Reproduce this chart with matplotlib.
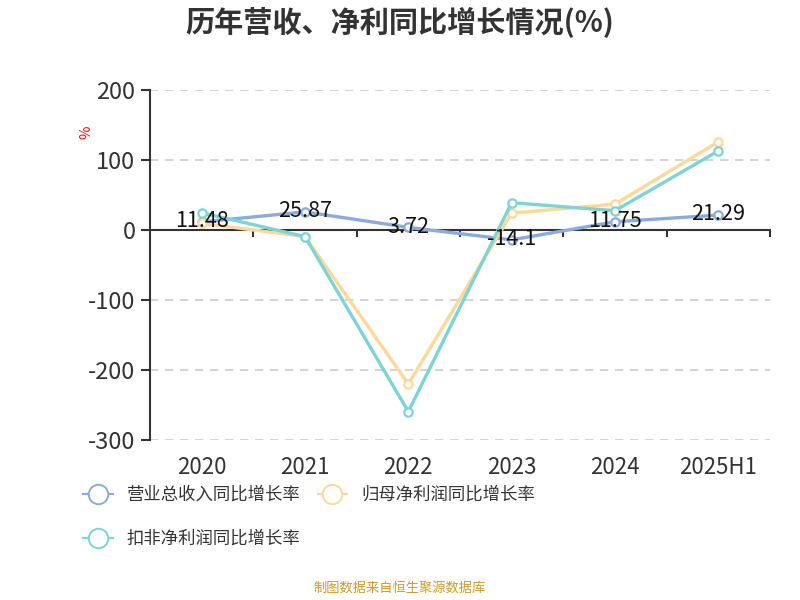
import matplotlib
matplotlib.use('Agg')
import matplotlib.pyplot as plt
from matplotlib.lines import Line2D

plt.rcParams['font.family'] = ['Noto Sans CJK SC', 'DejaVu Sans']
plt.rcParams['axes.unicode_minus'] = False

years = ['2020', '2021', '2022', '2023', '2024', '2025H1']
revenue = [11.48, 25.87, 3.72, -14.1, 11.75, 21.29]
net_profit = [9.5, -9.5, -220, 24, 37, 126]
deducted_profit = [24.7, -9.5, -259.5, 39, 27.6, 113]

names = ['营业总收入同比增长率', '归母净利润同比增长率', '扣非净利润同比增长率']
colors = ['#8caadc', '#fdd89b', '#7ed3d3']

fig = plt.figure(figsize=(8, 6), dpi=100)
ax = fig.add_axes([0.1875, 0.2667, 0.775, 0.5833])

x = list(range(len(years)))
handles = []
for vals, c, name in zip([revenue, net_profit, deducted_profit], colors, names):
    ax.plot(x, vals, color=c, lw=2.4, marker='o', ms=6, mfc='white',
            mec=c, mew=1.6, zorder=3)
    handles.append(Line2D([], [], color=c, lw=1.6, marker='o', ms=14,
                          mfc='white', mec=c, mew=1.4))

# labels on revenue points
for xi, v in zip(x, revenue):
    ax.annotate(f'{v:g}', (xi, v), xytext=(0, 0.5), textcoords='offset points',
                ha='center', va='center', fontsize=15.5, color='#111', zorder=5)

ax.set_xlim(-0.5, 5.5)
ax.set_ylim(-300, 200)
ax.set_yticks([-300, -200, -100, 0, 100, 200])
ax.tick_params(axis='y', length=6.5, width=1.5, color='#333', labelsize=17,
               labelcolor='#333', pad=4)
for yv in [-300, -200, -100, 100, 200]:
    ax.axhline(yv, color='#cccccc', lw=1.2, ls=(0, (5, 4)), zorder=1)

ax.spines['top'].set_visible(False)
ax.spines['right'].set_visible(False)
ax.spines['left'].set_color('#333')
ax.spines['left'].set_linewidth(1.5)
ax.spines['bottom'].set_position(('data', 0))
ax.spines['bottom'].set_color('#333')
ax.spines['bottom'].set_linewidth(1.5)

ax.set_xticks([i + 0.5 for i in x])
ax.set_xticklabels([])
ax.tick_params(axis='x', length=5, width=1.5, color='#333')
for xi, lab in zip(x, years):
    ax.text(xi, -0.08, lab, transform=ax.get_xaxis_transform(), ha='center',
            va='center', fontsize=16, color='#333')

fig.text(0.5, 0.962, '历年营收、净利同比增长情况(%)', ha='center', va='center',
         fontsize=21, fontweight='bold', color='#333')
fig.text(0.108, 0.78, '%', rotation=90, ha='center', va='center',
         fontsize=10.5, color='red')

fig.legend([handles[0], handles[2], handles[1]],
           [names[0], names[2], names[1]], ncol=2, loc='upper left',
           bbox_to_anchor=(0.104, 0.19), frameon=False, fontsize=12.5,
           handlelength=1.7, handletextpad=0.8, columnspacing=1.0,
           labelspacing=1.5, labelcolor='#333', borderaxespad=0, borderpad=0)

fig.text(0.5, 0.02, '制图数据来自恒生聚源数据库', ha='center', va='center',
         fontsize=9.5, color='#cc9a2a')

fig.savefig('out.png', dpi=100)
